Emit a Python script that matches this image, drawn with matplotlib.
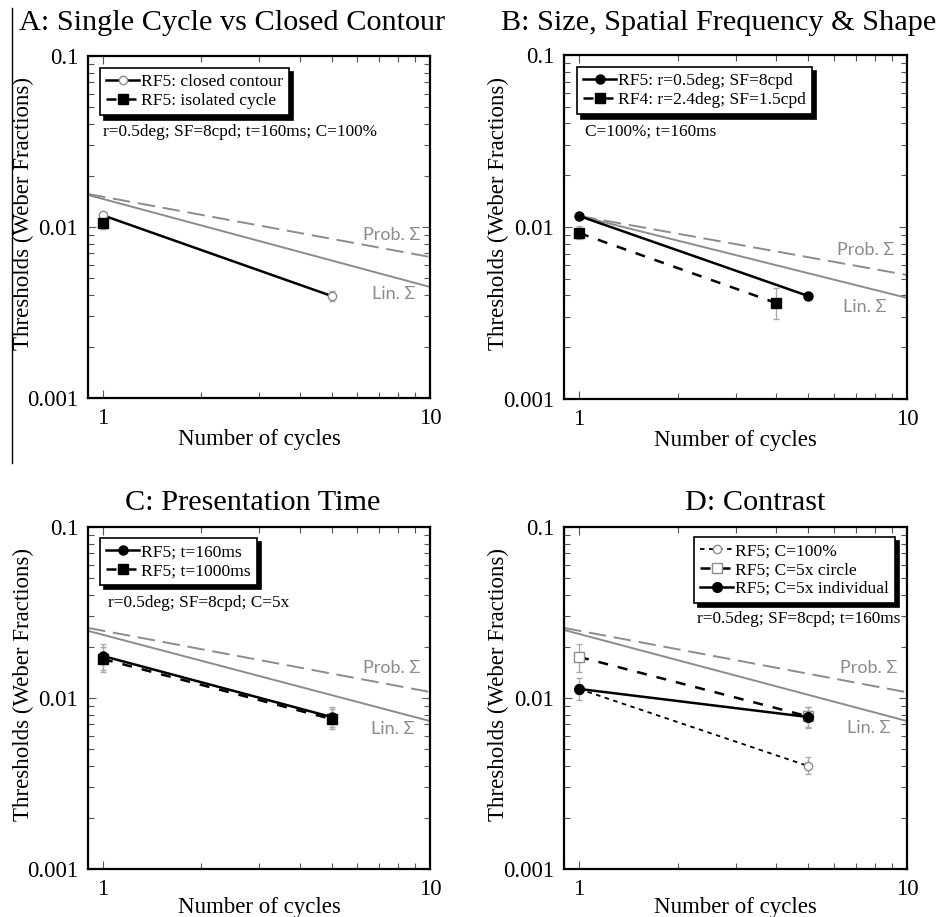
import numpy as np
import matplotlib
matplotlib.use("Agg")
import matplotlib.pyplot as plt
from matplotlib.lines import Line2D
from matplotlib.ticker import FixedLocator, NullFormatter, LogLocator

plt.rcParams['font.family'] = ['Liberation Serif', 'DejaVu Serif']

# ─── data ───
# model predictions (linear and probability summation), endpoints of each line
lin_x_AC = [0.9, 10]
lin_x_B = [1, 10]
A_lin = [0.0154, 0.00446]
A_prob = [0.0156, 0.00668]
B_lin = [0.0116, 0.00387]
B_prob = [0.0116, 0.00526]
C_lin = [0.0247, 0.00733]
C_prob = [0.0257, 0.01084]
D_lin = [0.0250, 0.00733]
D_prob = [0.0257, 0.0108]

# A: single cycle vs closed contour
A_contour_n = [1, 5]
A_contour_thr = [0.0117, 0.00395]
A_contour_lo = [0.0112, 0.0037]
A_contour_hi = [0.0122, 0.0042]
A_isolated_n = [1]
A_isolated_thr = [0.0105]
A_isolated_lo = [0.0098]
A_isolated_hi = [0.0112]

# B: size, spatial frequency & shape
B_rf5_n = [1, 5]
B_rf5_thr = [0.0116, 0.00397]
B_rf5_lo = [0.0112, 0.0038]
B_rf5_hi = [0.0121, 0.0042]
B_rf4_n = [1, 4]
B_rf4_thr = [0.00923, 0.00361]
B_rf4_lo = [0.0085, 0.0029]
B_rf4_hi = [0.0101, 0.0044]

# C: presentation time
C_160_n = [1, 5]
C_160_thr = [0.0176, 0.00774]
C_160_lo = [0.0145, 0.0068]
C_160_hi = [0.0207, 0.0088]
C_1000_n = [1, 5]
C_1000_thr = [0.0169, 0.00753]
C_1000_lo = [0.0142, 0.0066]
C_1000_hi = [0.0200, 0.0086]

# D: contrast
D_c100_n = [1, 5]
D_c100_thr = [0.0113, 0.0040]
D_c100_lo = [0.0105, 0.0036]
D_c100_hi = [0.0121, 0.0045]
D_circ_n = [1, 5]
D_circ_thr = [0.0174, 0.0078]
D_circ_lo = [0.0142, 0.0068]
D_circ_hi = [0.0207, 0.0089]
D_ind_n = [1, 5]
D_ind_thr = [0.0113, 0.00774]
D_ind_lo = [0.0097, 0.0067]
D_ind_hi = [0.0131, 0.0089]

GREY = '#8c8c8c'
ERR = '#aaaaaa'

fig = plt.figure(figsize=(9.4, 9.17), dpi=100)

axA = fig.add_axes([88/940, (917-398)/917, 342/940, 342/917])
axB = fig.add_axes([564/940, (917-399)/917, 343/940, 344/917])
axC = fig.add_axes([88/940, (917-869)/917, 342/940, 342/917])
axD = fig.add_axes([564/940, (917-869)/917, 343/940, 342/917])


def style(ax, xlab_y):
    ax.set_xscale('log')
    ax.set_yscale('log')
    ax.set_xlim(0.9, 10)
    ax.set_ylim(0.001, 0.1)
    ax.xaxis.set_major_locator(FixedLocator([1, 10]))
    ax.set_xticklabels(['1', '10'])
    ax.yaxis.set_major_locator(FixedLocator([0.001, 0.01, 0.1]))
    ax.set_yticklabels(['0.001', '0.01', '0.1'])
    ax.xaxis.set_minor_locator(LogLocator(base=10, subs=np.arange(2, 10)))
    ax.yaxis.set_minor_locator(LogLocator(base=10, subs=np.arange(2, 10)))
    ax.xaxis.set_minor_formatter(NullFormatter())
    ax.yaxis.set_minor_formatter(NullFormatter())
    ax.tick_params(which='both', direction='in', top=True, right=True,
                   labelsize=16.5, width=0.8, color='#555555')
    ax.tick_params(which='major', length=6, pad=7)
    ax.tick_params(which='minor', length=4)
    for s in ax.spines.values():
        s.set_linewidth(1.6)
    ax.set_xlabel('Number of cycles', fontsize=16.5)
    ax.xaxis.set_label_coords(0.5, xlab_y)
    ax.set_ylabel('Thresholds (Weber Fractions)', fontsize=16.5)
    ax.yaxis.set_label_coords(-0.19, 0.54)
    ax.yaxis.label.set_va('center')


def models(ax, x, lin, prob, pos):
    ax.plot(x, lin, color=GREY, lw=1.4, zorder=1)
    ax.plot(x, prob, color=GREY, lw=1.4, dashes=(9, 4), zorder=1)
    sans = ['Lato', 'DejaVu Sans']
    ax.text(pos[0], pos[1], 'Prob. Σ', transform=ax.transAxes, color=GREY,
            fontsize=13, family=sans, va='center', ha='left')
    ax.text(pos[2], pos[3], 'Lin. Σ', transform=ax.transAxes, color=GREY,
            fontsize=13, family=sans, va='center', ha='left')


def series(ax, n, thr, lo, hi, label, **kw):
    yerr = [np.array(thr) - np.array(lo), np.array(hi) - np.array(thr)]
    ax.errorbar(n, thr, yerr=yerr, fmt='none', ecolor=ERR, elinewidth=1,
                capsize=2, zorder=2)
    return ax.plot(n, thr, label=label, zorder=3, **kw)[0]


def legend(ax, loc, anchor):
    lg = ax.legend(loc=loc, bbox_to_anchor=anchor, borderaxespad=0,
                   fontsize=12.6, frameon=True, fancybox=False,
                   edgecolor='black', handlelength=1.9, handletextpad=0.1,
                   borderpad=0.35, labelspacing=0.15,
                   shadow={'color': 'black', 'alpha': 1, 'ox': 3, 'oy': -3})
    lg.get_frame().set_linewidth(1.2)
    return lg


style(axA, -0.091)
style(axB, -0.091)
style(axC, -0.081)
style(axD, -0.081)

# ─── A ───
models(axA, lin_x_AC, A_lin, A_prob, (0.804, 0.477, 0.83, 0.304))
series(axA, A_contour_n, A_contour_thr, A_contour_lo, A_contour_hi,
       'RF5: closed contour', color='black', lw=1.8, marker='o', ms=6,
       mfc='white', mec=GREY, mew=1)
series(axA, A_isolated_n, A_isolated_thr, A_isolated_lo, A_isolated_hi,
       'RF5: isolated cycle', color='black', lw=1.8, dashes=(4, 4),
       marker='s', ms=7)
legend(axA, 'upper left', (0.035, 0.965))
axA.text(0.044, 0.778, 'r=0.5deg; SF=8cpd; t=160ms; C=100%',
         transform=axA.transAxes, fontsize=12.4, va='center')

# ─── B ───
models(axB, lin_x_B, B_lin, B_prob, (0.796, 0.433, 0.813, 0.267))
series(axB, B_rf5_n, B_rf5_thr, B_rf5_lo, B_rf5_hi,
       'RF5: r=0.5deg; SF=8cpd', color='black', lw=1.8, marker='o', ms=6.5)
series(axB, B_rf4_n, B_rf4_thr, B_rf4_lo, B_rf4_hi,
       'RF4: r=2.4deg; SF=1.5cpd', color='black', lw=1.8, dashes=(4, 4),
       marker='s', ms=7)
legend(axB, 'upper left', (0.038, 0.965))
axB.text(0.061, 0.776, 'C=100%; t=160ms', transform=axB.transAxes,
         fontsize=12.4, va='center')

# ─── C ───
models(axC, lin_x_AC, C_lin, C_prob, (0.804, 0.588, 0.827, 0.409))
series(axC, C_160_n, C_160_thr, C_160_lo, C_160_hi,
       'RF5; t=160ms', color='black', lw=1.8, marker='o', ms=6.5)
series(axC, C_1000_n, C_1000_thr, C_1000_lo, C_1000_hi,
       'RF5; t=1000ms', color='black', lw=1.8, dashes=(4, 4),
       marker='s', ms=7)
legend(axC, 'upper left', (0.035, 0.968))
axC.text(0.058, 0.778, 'r=0.5deg; SF=8cpd; C=5x', transform=axC.transAxes,
         fontsize=12.4, va='center')

# ─── D ───
models(axD, lin_x_AC, D_lin, D_prob, (0.805, 0.588, 0.825, 0.412))
series(axD, D_c100_n, D_c100_thr, D_c100_lo, D_c100_hi,
       'RF5; C=100%', color='black', lw=1.3, dashes=(2.5, 2.5),
       marker='o', ms=6, mfc='white', mec=GREY, mew=1)
series(axD, D_circ_n, D_circ_thr, D_circ_lo, D_circ_hi,
       'RF5; C=5x circle', color='black', lw=1.8, dashes=(4, 4),
       marker='s', ms=7, mfc='white', mec=GREY, mew=1)
series(axD, D_ind_n, D_ind_thr, D_ind_lo, D_ind_hi,
       'RF5; C=5x individual', color='black', lw=1.8, marker='o', ms=7)
legend(axD, 'upper right', (0.965, 0.971))
axD.text(0.98, 0.731, 'r=0.5deg; SF=8cpd; t=160ms', transform=axD.transAxes,
         fontsize=12.4, va='center', ha='right')

# ─── titles ───
fig.text(232/940, 1 - 23/917, 'A: Single Cycle vs Closed Contour',
         fontsize=21.8, ha='center', va='center')
fig.text(936/940, 1 - 23/917, 'B: Size, Spatial Frequency & Shape',
         fontsize=21.8, ha='right', va='center')
fig.text(253/940, 1 - 503/917, 'C: Presentation Time',
         fontsize=21.8, ha='center', va='center')
fig.text(755/940, 1 - 503/917, 'D: Contrast',
         fontsize=21.8, ha='center', va='center')

# thin rule down the left of panel A
fig.add_artist(Line2D([12/940, 12/940], [1 - 8/917, 1 - 463/917],
                      color='black', lw=1))

fig.savefig('out.png', dpi=100)
